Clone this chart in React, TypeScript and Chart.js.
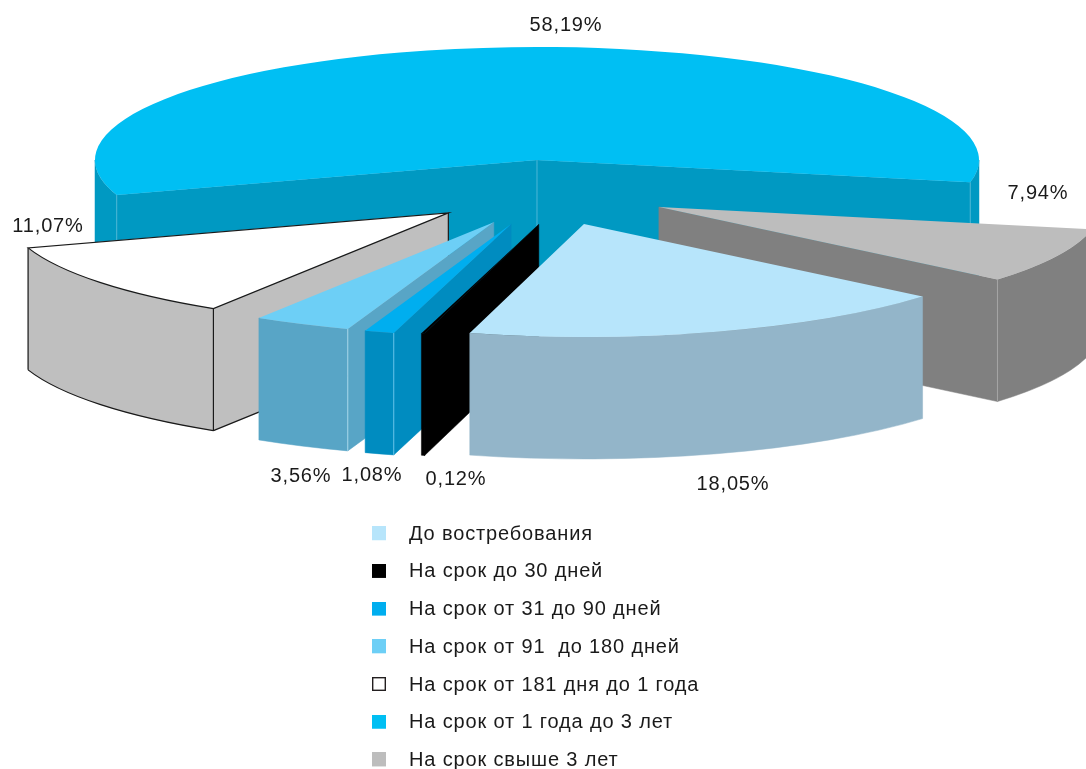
import React, { useEffect, useRef } from "react";
import { Chart, registerables } from "chart.js";

Chart.register(...registerables);

const categories = [
  "До востребования",
  "На срок до 30 дней",
  "На срок от 31 до 90 дней",
  "На срок от 91  до 180 дней",
  "На срок от 181 дня до 1 года",
  "На срок от 1 года до 3 лет",
  "На срок свыше 3 лет",
];
const values = [18.05, 0.12, 1.08, 3.56, 11.07, 58.19, 7.94];
const topColors = ["#B7E5FB", "#000000", "#00AEEF", "#6DCFF6", "#FFFFFF", "#00BFF3", "#BDBDBD"];
const wallColors = ["#93B5C9", "#000000", "#008CC0", "#58A5C6", "#BFBFBF", "#0099C2", "#808080"];
const seamColors = ["#B7D3E0", "#000000", "#66C4E8", "#A8D8EC", "#1A1A1A", "#4DB8D6", "#A6A6A6"];
// centres of the value labels, px
const labelCentres: [number, number][] = [
  [733, 484], [456, 479], [372, 475], [301, 476], [48, 226], [566, 25], [1038, 193],
];
// small sideways shifts of the slices in the reference's projection, px
const sliceNudgeX = [1, 28, 5, 5, 5, 0, -1];

const RADIUS = 300;
const RX = 442;
const RY = 113;
const SX = RX / RADIUS;
const SY = RY / RADIUS;
const CENTRE_X = 544.4;
const CENTRE_Y = 192.7;
const EXPLODE = 87; // in chart units
const DEPTH = 122;
const PAINT_ORDER = [5, 6, 4, 3, 2, 1, 0];
const TEXT = "#1A1A1A";
const FONT = "Liberation Sans";
const TRACKING = "0.85px";

function legendSwatch(color: string, outlined: boolean) {
  const c = document.createElement("canvas");
  c.width = 27;
  c.height = 16;
  const g = c.getContext("2d")!;
  g.fillStyle = color;
  g.fillRect(0, 0, 14, 14);
  if (outlined) {
    g.strokeStyle = "#231F20";
    g.lineWidth = 1.4;
    g.strokeRect(0.7, 0.7, 12.6, 12.6);
  }
  return c;
}

const pie3d = {
  id: "pie3d",
  beforeUpdate(chart: any) {
    chart.ctx.letterSpacing = TRACKING;
  },
  afterDatasetsUpdate(chart: any) {
    const data = chart.getDatasetMeta(0).data;
    chart.$origin = { x: data[0].x, y: data[0].y };
    data.forEach((el: any, i: number) => {
      // explode every slice along its own bisector
      const mid = (el.startAngle + el.endAngle) / 2;
      el.x += Math.cos(mid) * EXPLODE + sliceNudgeX[i] / SX;
      el.y += Math.sin(mid) * EXPLODE;
    });
  },
  beforeDraw(chart: any) {
    chart.ctx.letterSpacing = TRACKING;
  },
  beforeDatasetsDraw(chart: any) {
    const ctx: CanvasRenderingContext2D = chart.ctx;
    const { x: ox, y: oy } = chart.$origin;
    const arcs = chart.getDatasetMeta(0).data;
    const geom = (i: number) => {
      const el = arcs[i];
      return {
        ax: CENTRE_X + SX * (el.x - ox),
        ay: CENTRE_Y + SY * (el.y - oy),
        a: el.startAngle,
        b: el.endAngle,
      };
    };
    chart.$geom = geom;
    const rim = (g: any, t: number) => [g.ax + RX * Math.cos(t), g.ay + RY * Math.sin(t)];

    PAINT_ORDER.forEach((i) => {
      const g = geom(i);
      ctx.fillStyle = wallColors[i];
      ctx.strokeStyle = wallColors[i];
      ctx.lineWidth = 0.5;
      const faces: number[] = [];
      if (Math.sin(g.a - Math.PI / 2) > 0) faces.push(g.a);
      if (Math.sin(g.b + Math.PI / 2) > 0) faces.push(g.b);
      faces.forEach((t) => {
        const [px, py] = rim(g, t);
        ctx.beginPath();
        ctx.moveTo(g.ax, g.ay);
        ctx.lineTo(px, py);
        ctx.lineTo(px, py + DEPTH);
        ctx.lineTo(g.ax, g.ay + DEPTH);
        ctx.closePath();
        ctx.fill();
        ctx.stroke();
      });
      // outer wall: only the part that faces the viewer
      const spans = [[0, Math.PI], [2 * Math.PI, 3 * Math.PI], [-2 * Math.PI, -Math.PI]];
      spans.forEach(([lo, hi]) => {
        const s = Math.max(g.a, lo);
        const e = Math.min(g.b, hi);
        if (e <= s) return;
        ctx.beginPath();
        ctx.ellipse(g.ax, g.ay, RX, RY, 0, s, e);
        ctx.ellipse(g.ax, g.ay + DEPTH, RX, RY, 0, e, s, true);
        ctx.closePath();
        ctx.fill();
        ctx.stroke();
      });
      // seams
      ctx.strokeStyle = seamColors[i];
      ctx.lineWidth = i === 4 ? 1.2 : 1;
      faces.forEach((t) => {
        const [px, py] = rim(g, t);
        ctx.beginPath();
        ctx.moveTo(px, py);
        ctx.lineTo(px, py + DEPTH);
        ctx.stroke();
      });
      if (i === 5) {
        ctx.beginPath();
        ctx.moveTo(g.ax, g.ay);
        ctx.lineTo(g.ax, g.ay + DEPTH);
        ctx.stroke();
      }
      if (i === 4) {
        const [x1, y1] = rim(g, g.a);
        const [x2, y2] = rim(g, g.b);
        ctx.beginPath();
        ctx.moveTo(x1, y1 + DEPTH);
        ctx.lineTo(g.ax, g.ay + DEPTH);
        ctx.moveTo(g.ax, g.ay);
        ctx.lineTo(g.ax, g.ay + DEPTH);
        ctx.moveTo(x2, y2);
        ctx.lineTo(x2, y2 + DEPTH);
        ctx.moveTo(x1, y1 + DEPTH);
        ctx.ellipse(g.ax, g.ay + DEPTH, RX, RY, 0, g.a, g.b);
        ctx.stroke();
      }
    });

    ctx.save();
    ctx.translate(CENTRE_X, CENTRE_Y);
    ctx.scale(SX, SY);
    ctx.translate(-ox, -oy);
  },
  afterDatasetsDraw(chart: any) {
    const ctx: CanvasRenderingContext2D = chart.ctx;
    ctx.restore();
    // outline of the white slice
    const g = chart.$geom(4);
    ctx.strokeStyle = "#1A1A1A";
    ctx.lineWidth = 1.2;
    ctx.beginPath();
    ctx.moveTo(g.ax, g.ay);
    ctx.ellipse(g.ax, g.ay, RX, RY, 0, g.a, g.b);
    ctx.closePath();
    ctx.stroke();
    // value labels
    ctx.font = `20px "${FONT}"`;
    ctx.fillStyle = TEXT;
    ctx.textAlign = "center";
    ctx.textBaseline = "middle";
    values.forEach((v, i) => {
      const [x, y] = labelCentres[i];
      ctx.fillText(v.toFixed(2).replace(".", ",") + "%", x, y);
    });
  },
};

export default function App() {
  const ref = useRef<HTMLCanvasElement>(null);
  useEffect(() => {
    const chart = new Chart(ref.current!, {
      type: "pie",
      data: {
        labels: categories,
        datasets: [
          {
            data: values,
            backgroundColor: topColors,
            borderWidth: 0,
            clip: false,
          } as any,
        ],
      },
      options: {
        responsive: false,
        animation: false,
        rotation: 130,
        radius: RADIUS,
        cutout: "0%",
        layout: { padding: { left: 354.3, bottom: -60, top: 506.5, right: 0 } },
        plugins: {
          title: { display: false },
          tooltip: { enabled: false },
          legend: {
            position: "left",
            align: "start",
            labels: {
              color: TEXT,
              font: { family: FONT, size: 20 },
              padding: 17.7,
              usePointStyle: true,
              pointStyleWidth: 27,
              generateLabels: () =>
                categories.map((text, i) => ({
                  text,
                  index: i,
                  fontColor: TEXT,
                  pointStyle: legendSwatch(topColors[i], i === 4),
                  fillStyle: topColors[i],
                  strokeStyle: topColors[i],
                  lineWidth: 0,
                  hidden: false,
                })),
            },
          },
        },
      } as any,
      plugins: [pie3d],
    });
    return () => chart.destroy();
  }, []);
  return (
    <canvas
      ref={ref}
      width={1086}
      height={769}
      style={{ position: "fixed", left: 0, top: 0, display: "block", background: "#FFFFFF" }}
    />
  );
}
